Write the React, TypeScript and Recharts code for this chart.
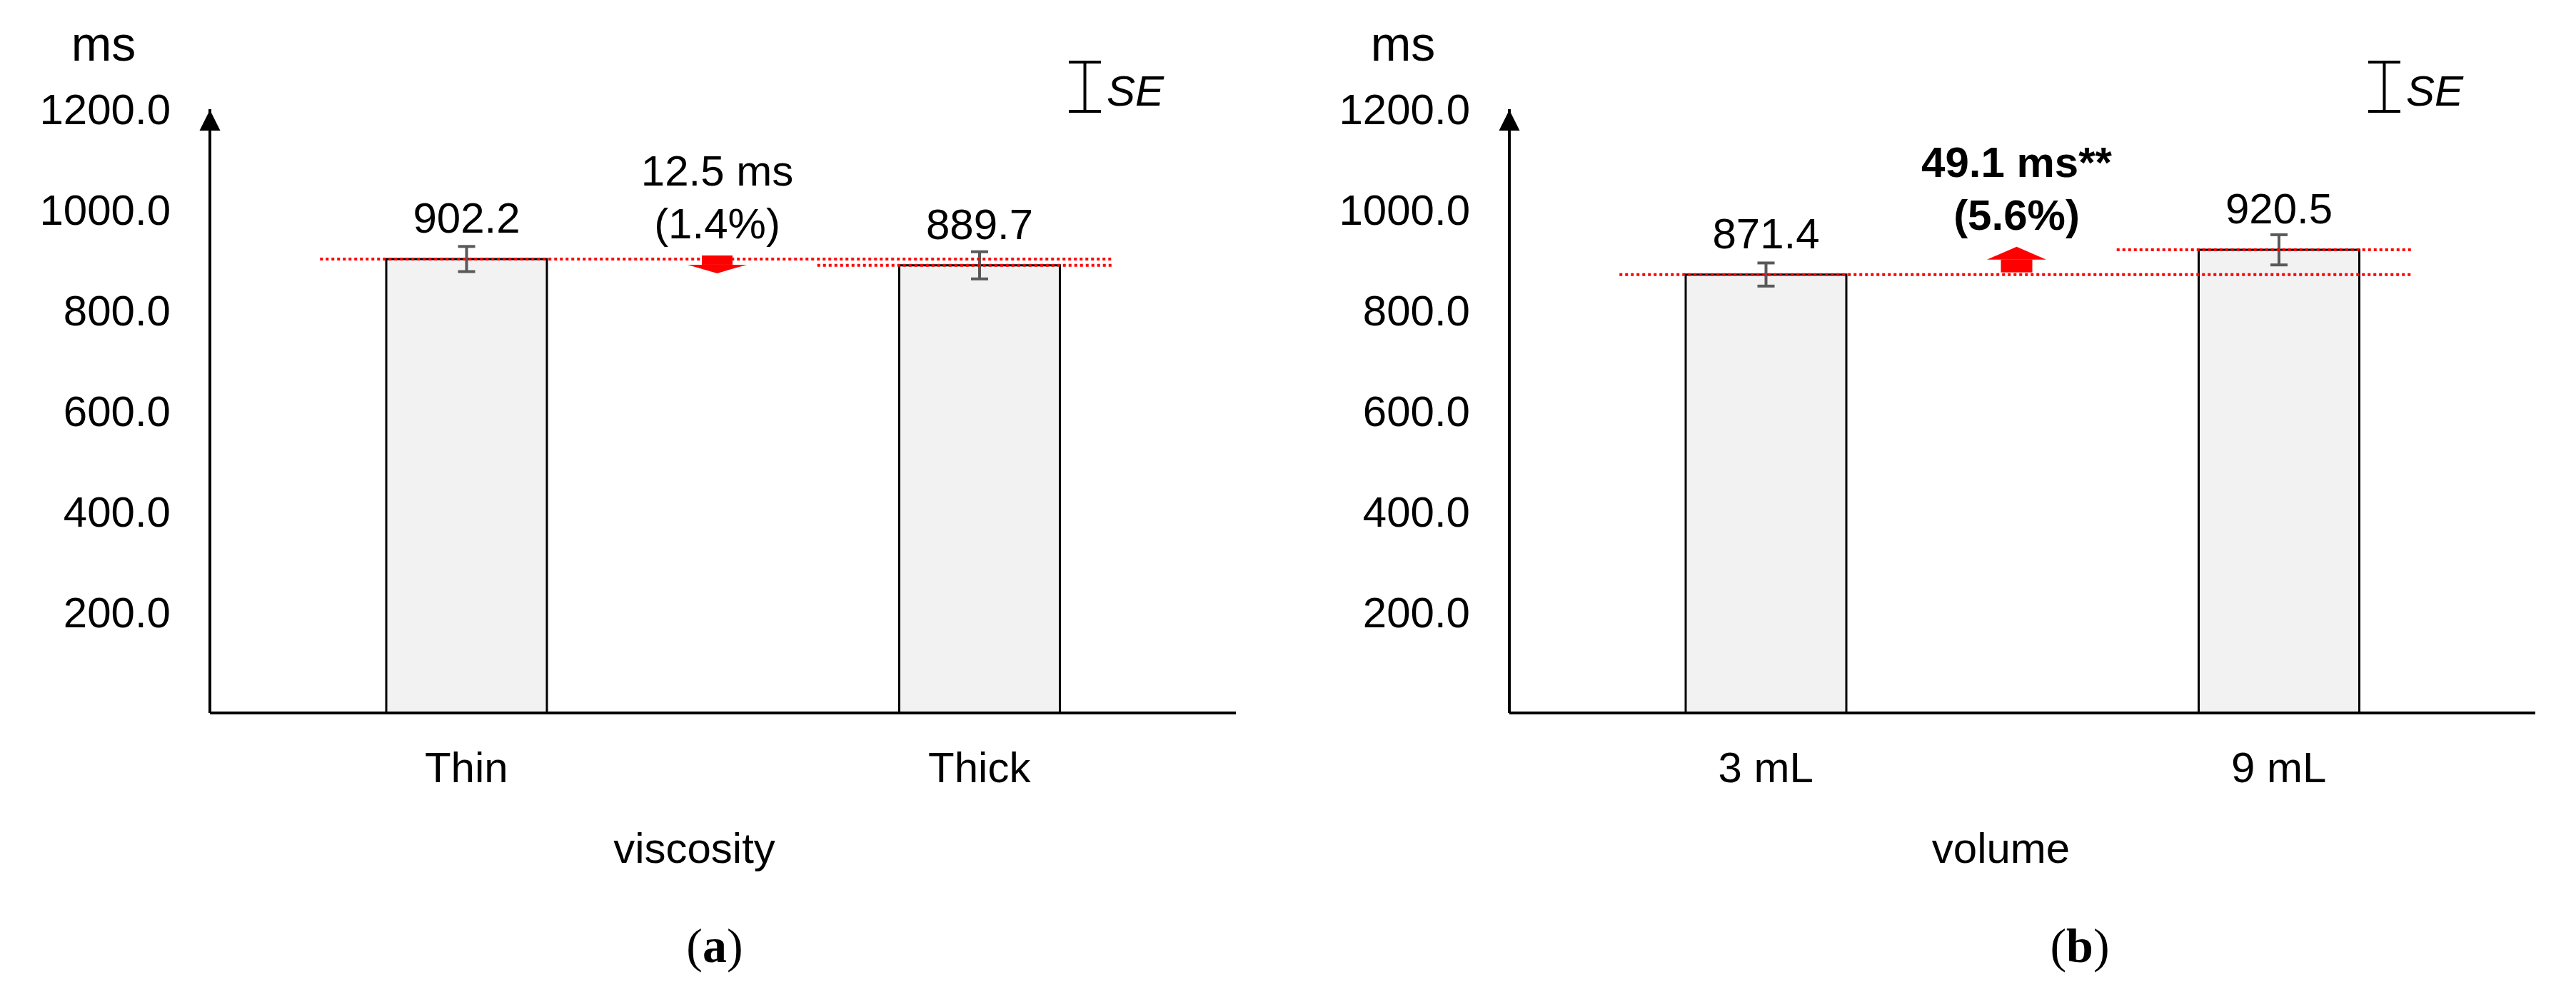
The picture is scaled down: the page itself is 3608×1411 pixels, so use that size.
import React from 'react';
import {
  BarChart,
  Bar,
  XAxis,
  YAxis,
  ErrorBar,
  LabelList,
  ReferenceLine,
  Legend,
} from 'recharts';

// (a) viscosity
const viscosityLabels = ['Thin', 'Thick'];
const viscosityMeans = [902.2, 889.7];
const viscositySE = [25, 27];

// (b) volume
const volumeLabels = ['3 mL', '9 mL'];
const volumeMeans = [871.4, 920.5];
const volumeSE = [23, 30];

const yTicks = [200, 400, 600, 800, 1000, 1200];

const diffLabels = ['12.5 ms', '49.1 ms**'];
const pctLabels = ['(1.4%)', '(5.6%)'];
const axisTitles = ['viscosity', 'volume'];
const captions = ['a', 'b'];

const FONT = '"Liberation Sans", Arial, Helvetica, sans-serif';
const CHART_H = 1260;
const PLOT_TOP = 153;
const PLOT_BOTTOM = 999;
const PLOT_LEFT = 294;
const PLOT_RIGHT = 1731;
const X_AXIS_H = 220;
const Y_AXIS_W = 100;
const RED = '#ff0000';

// y axis arrow head + unit
const AxisArrow = (props: any) => {
  const { x, y, width } = props.viewBox;
  const ax = x + width;
  return (
    <g>
      <polygon points={`${ax - 14.5},${y + 30} ${ax + 14.5},${y + 30} ${ax},${y + 1}`} fill="#000" />
      <text x={ax - 149} y={y - 68} textAnchor="middle" fontSize={68} fill="#000" fontFamily={FONT}>
        ms
      </text>
    </g>
  );
};

const SeLegend = () => (
  <svg width={170} height={90} style={{ overflow: 'visible' }}>
    <line x1={29.5} x2={29.5} y1={5} y2={78} stroke="#000" strokeWidth={4} />
    <line x1={7} x2={52} y1={7} y2={7} stroke="#000" strokeWidth={4} />
    <line x1={7} x2={52} y1={76} y2={76} stroke="#000" strokeWidth={4} />
    <text x={60} y={68} fontSize={60} fontStyle="italic" fill="#000" fontFamily={FONT}>
      SE
    </text>
  </svg>
);

interface PanelProps {
  left: number;
  width: number;
  labels: string[];
  means: number[];
  se: number[];
  title: string;
  titleShift: number;
  diff: string;
  pct: string;
  caption: string;
  captionX: number;
}

function Panel({ left, width, labels, means, se, title, titleShift, diff, pct, caption, captionX }: PanelProps) {
  const data = labels.map((name, i) => ({ name, value: means[i], se: se[i] }));
  const up = means[1] > means[0];
  const bold = diff.includes('*');

  // dotted level of the first bar, running across to the second, with the change arrow and text
  const firstLevel = (p: any) => {
    const { x1, y1, x2 } = p;
    const cy = y1;
    const cx = (x1 + x2) / 2 - 8;
    const top = up ? cy - 39 : cy - 5;
    const weight = bold ? 'bold' : 'normal';
    return (
      <g>
        <line x1={x1 - 205} x2={x2 + 185} y1={cy} y2={cy} stroke={RED} strokeWidth={4} strokeDasharray="4 4" />
        {up ? (
          <>
            <rect x={cx - 22} y={cy - 21} width={44} height={18} fill={RED} />
            <polygon points={`${cx - 41.5},${cy - 21} ${cx + 41.5},${cy - 21} ${cx},${cy - 39}`} fill={RED} />
          </>
        ) : (
          <>
            <rect x={cx - 21.5} y={cy - 5} width={43} height={13} fill={RED} />
            <polygon points={`${cx - 41.5},${cy + 8} ${cx + 41.5},${cy + 8} ${cx},${cy + 20}`} fill={RED} />
          </>
        )}
        <text x={cx} y={top - 98} textAnchor="middle" fontSize={60} fontWeight={weight} fill="#000" fontFamily={FONT}>
          {diff}
        </text>
        <text x={cx} y={top - 24} textAnchor="middle" fontSize={60} fontWeight={weight} fill="#000" fontFamily={FONT}>
          {pct}
        </text>
      </g>
    );
  };

  const secondLevel = (p: any) => {
    const { x1, y1 } = p;
    return <line x1={x1 - 227} x2={x1 + 185} y1={y1} y2={y1} stroke={RED} strokeWidth={4} strokeDasharray="4 4" />;
  };

  const axisTitle = (p: any) => {
    const { x, y, width: w } = p.viewBox;
    return (
      <text x={x + w / 2 + titleShift} y={y + X_AXIS_H - 10} textAnchor="middle" fontSize={60} fill="#000" fontFamily={FONT}>
        {title}
      </text>
    );
  };

  return (
    <div style={{ position: 'absolute', left, top: 0, width, height: 1411 }}>
      <BarChart
        width={width}
        height={CHART_H}
        data={data}
        margin={{
          top: PLOT_TOP,
          right: width - PLOT_RIGHT,
          bottom: CHART_H - PLOT_BOTTOM - X_AXIS_H,
          left: PLOT_LEFT - Y_AXIS_W,
        }}
        style={{ fontFamily: FONT }}
      >
        <XAxis
          dataKey="name"
          height={X_AXIS_H}
          axisLine={{ stroke: '#000', strokeWidth: 4 }}
          tickLine={false}
          tickSize={0}
          tickMargin={54}
          tick={{ fontSize: 60, fill: '#000' }}
          label={{ content: axisTitle }}
        />
        <YAxis
          domain={[0, 1200]}
          ticks={yTicks}
          width={Y_AXIS_W}
          axisLine={{ stroke: '#000', strokeWidth: 4 }}
          tickLine={false}
          tickSize={0}
          tickMargin={55}
          tick={{ fontSize: 60, fill: '#000' }}
          tickFormatter={(v: number) => v.toFixed(1)}
          label={{ content: AxisArrow }}
        />
        <Legend
          layout="horizontal"
          verticalAlign="middle"
          align="center"
          content={<SeLegend />}
          wrapperStyle={{ left: 1490, top: 80, width: 170, height: 90 }}
        />
        <Bar dataKey="value" fill="#f2f2f2" stroke="#000" strokeWidth={3} barSize={225} isAnimationActive={false}>
          <ErrorBar dataKey="se" direction="y" width={12} stroke="#595959" strokeWidth={4} isAnimationActive={false} />
          <LabelList
            dataKey="value"
            position="top"
            offset={37}
            formatter={(v: any) => Number(v).toFixed(1)}
            style={{ fontSize: 60, fill: '#000', fontFamily: FONT }}
          />
        </Bar>
        <ReferenceLine
          segment={[{ x: labels[1], y: means[1] }, { x: labels[1], y: means[1] }]}
          ifOverflow="visible"
          shape={secondLevel}
        />
        <ReferenceLine
          segment={[{ x: labels[0], y: means[0] }, { x: labels[1], y: means[0] }]}
          ifOverflow="visible"
          shape={firstLevel}
        />
      </BarChart>
      <svg width={width} height={151} style={{ position: 'absolute', left: 0, top: CHART_H }}>
        <text x={captionX} y={88} textAnchor="middle" fontSize={68} fill="#000" fontFamily='"Liberation Serif", "Times New Roman", serif'>
          (<tspan fontWeight="bold">{caption}</tspan>)
        </text>
      </svg>
    </div>
  );
}

export default function App() {
  return (
    <div style={{ position: 'absolute', left: 0, top: 0, width: 3608, height: 1411, background: '#fff', overflow: 'hidden' }}>
      <Panel
        left={0}
        width={1820}
        labels={viscosityLabels}
        means={viscosityMeans}
        se={viscositySE}
        title={axisTitles[0]}
        titleShift={-40}
        diff={diffLabels[0]}
        pct={pctLabels[0]}
        caption={captions[0]}
        captionX={1001}
      />
      <Panel
        left={1820}
        width={1788}
        labels={volumeLabels}
        means={volumeMeans}
        se={volumeSE}
        title={axisTitles[1]}
        titleShift={-30}
        diff={diffLabels[1]}
        pct={pctLabels[1]}
        caption={captions[1]}
        captionX={1093}
      />
    </div>
  );
}
